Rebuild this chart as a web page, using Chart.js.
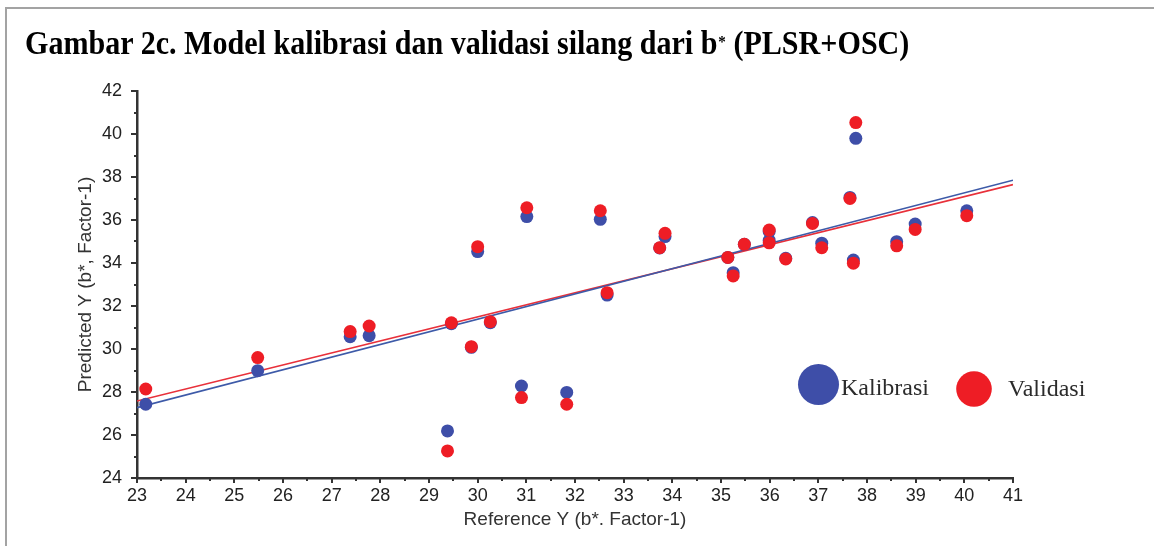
<!DOCTYPE html>
<html><head><meta charset="utf-8">
<script src="https://cdn.jsdelivr.net/npm/chart.js@4.4.1/dist/chart.umd.min.js"></script>
<style>
html,body{margin:0;padding:0;background:#fff;}
#wrap{position:relative;width:1154px;height:546px;overflow:hidden;background:#fff;}
#frame{position:absolute;left:5px;top:7px;width:1200px;height:600px;border-top:2px solid #a3a3a3;border-left:2px solid #a3a3a3;}
#title{position:absolute;left:25px;top:26px;font:bold 34px "Liberation Serif","Times New Roman",serif;line-height:34px;white-space:nowrap;color:#000;transform-origin:0 0;transform:scaleX(0.885);}
#title sup{font-size:0.5em;vertical-align:top;position:relative;top:-1px;margin-left:1px;}
canvas{position:absolute;left:0;top:0;}
</style></head><body>
<div id="wrap">
<div id="frame"></div>
<canvas id="c" width="1154" height="546"></canvas>
<div id="title">Gambar 2c. Model kalibrasi dan validasi silang dari b<sup>*</sup> (PLSR+OSC)</div>
</div>
<script>
// Reference values (x) shared by both series
const refX = [23.18, 25.48, 27.38, 27.77, 29.38, 29.46, 29.87, 30.00, 30.26, 30.90,
              31.01, 31.83, 32.52, 32.66, 33.74, 33.85, 35.14, 35.25, 35.48, 35.99,
              35.99, 36.33, 36.88, 37.07, 37.65, 37.77, 37.72, 38.61, 38.99, 40.05];
// Predicted (Kalibrasi)
const calY = [27.43, 28.99, 30.57, 30.62, 26.19, 31.18, 30.08, 34.53, 31.22, 28.28,
              36.16, 27.98, 36.03, 32.51, 34.70, 35.23, 34.26, 33.55, 34.87, 35.47,
              35.05, 34.22, 35.88, 34.92, 37.05, 39.80, 34.14, 34.99, 35.81, 36.43];
// Predicted (Validasi)
const valY = [28.14, 29.60, 30.81, 31.07, 25.26, 31.22, 30.11, 34.76, 31.27, 27.74,
              36.57, 27.43, 36.43, 32.62, 34.71, 35.38, 34.26, 33.40, 34.87, 35.53,
              34.94, 34.19, 35.84, 34.71, 37.00, 40.53, 33.99, 34.80, 35.56, 36.20];
// Regression lines (end points)
const lineX = [23, 41];
const calLineY = [27.27, 37.85];
const valLineY = [27.58, 37.65];
// Tick labels
const xTickValues = [23,24,25,26,27,28,29,30,31,32,33,34,35,36,37,38,39,40,41];
const yTickValues = [24,26,28,30,32,34,36,38,40,42];

const BLUE = '#3e4ea8', RED = '#ee1d25';

const axisTicks = {
  id: 'axisTicks',
  afterDraw(chart) {
    const {ctx, scales: {x, y}, chartArea: a} = chart;
    ctx.save();
    ctx.strokeStyle = '#333';
    ctx.lineWidth = 2;
    ctx.beginPath();
    for (let i = 0; i < xTickValues.length; i++) {
      const px = Math.round(x.getPixelForValue(xTickValues[i]));
      ctx.moveTo(px, a.bottom); ctx.lineTo(px, a.bottom + 5);
      if (i < xTickValues.length - 1) {
        const pm = Math.round(x.getPixelForValue((xTickValues[i] + xTickValues[i+1]) / 2));
        ctx.moveTo(pm, a.bottom); ctx.lineTo(pm, a.bottom + 3);
      }
    }
    for (let i = 0; i < yTickValues.length; i++) {
      const py = Math.round(y.getPixelForValue(yTickValues[i]));
      ctx.moveTo(a.left, py); ctx.lineTo(a.left - 6, py);
      if (i < yTickValues.length - 1) {
        const pm = Math.round(y.getPixelForValue((yTickValues[i] + yTickValues[i+1]) / 2));
        ctx.moveTo(a.left, pm); ctx.lineTo(a.left - 3, pm);
      }
    }
    ctx.stroke();
    ctx.restore();
  }
};

const innerLegend = {
  id: 'innerLegend',
  afterDraw(chart) {
    const ctx = chart.ctx;
    ctx.save();
    ctx.fillStyle = BLUE;
    ctx.beginPath(); ctx.arc(818.5, 384.5, 20.5, 0, Math.PI * 2); ctx.fill();
    ctx.fillStyle = RED;
    ctx.beginPath(); ctx.arc(974, 389, 17.8, 0, Math.PI * 2); ctx.fill();
    ctx.fillStyle = '#2b2b2b';
    ctx.font = '24px "Liberation Serif", "Times New Roman", serif';
    ctx.textBaseline = 'alphabetic';
    ctx.textAlign = 'left';
    ctx.fillText('Kalibrasi', 841, 395);
    ctx.fillText('Validasi', 1008, 396);
    ctx.restore();
  }
};

const tickFont = {family: '"Liberation Sans", Arial, sans-serif', size: 18};
const titleFont = {family: '"Liberation Sans", Arial, sans-serif', size: 19};

new Chart(document.getElementById('c'), {
  type: 'scatter',
  data: {
    datasets: [
      {label: 'Validasi', data: refX.map((v, i) => ({x: v, y: valY[i]})),
       backgroundColor: RED, borderWidth: 0, pointRadius: 6.5, order: 1},
      {label: 'Kalibrasi', data: refX.map((v, i) => ({x: v, y: calY[i]})),
       backgroundColor: BLUE, borderWidth: 0, pointRadius: 6.5, order: 2},
      {label: 'Kalibrasi fit', data: lineX.map((v, i) => ({x: v, y: calLineY[i]})),
       showLine: true, borderColor: '#3d5aa8', borderWidth: 1.7, pointRadius: 0, order: 3},
      {label: 'Validasi fit', data: lineX.map((v, i) => ({x: v, y: valLineY[i]})),
       showLine: true, borderColor: '#e8303a', borderWidth: 1.7, pointRadius: 0, order: 4}
    ]
  },
  options: {
    responsive: false,
    animation: false,
    devicePixelRatio: 1,
    layout: {padding: {top: 91, right: 141, left: 0, bottom: 0}},
    plugins: {legend: {display: false}, tooltip: {enabled: false}},
    scales: {
      x: {
        type: 'linear', min: 23, max: 41,
        afterBuildTicks: s => { s.ticks = xTickValues.map(v => ({value: v})); },
        afterFit: s => { s.height = 68; },
        grid: {display: false, drawTicks: false, tickLength: 0},
        border: {display: true, color: '#333', width: 2.5},
        ticks: {font: tickFont, color: '#222', padding: 7, maxRotation: 0, autoSkip: false},
        title: {display: true, text: 'Reference Y (b*. Factor-1)', font: titleFont, color: '#333',
                padding: {top: 0, bottom: 14.6}}
      },
      y: {
        type: 'linear', min: 24, max: 42,
        afterBuildTicks: s => { s.ticks = yTickValues.map(v => ({value: v})); },
        afterFit: s => { s.width = 137; },
        grid: {display: false, drawTicks: false, tickLength: 0},
        border: {display: true, color: '#333', width: 2.5},
        ticks: {font: tickFont, color: '#222', padding: 15, autoSkip: false},
        title: {display: true, text: 'Predicted Y (b*, Factor-1)', font: titleFont, color: '#333',
                padding: {top: 74.6, bottom: 0}}
      }
    }
  },
  plugins: [axisTicks, innerLegend]
});
</script>
</body></html>
